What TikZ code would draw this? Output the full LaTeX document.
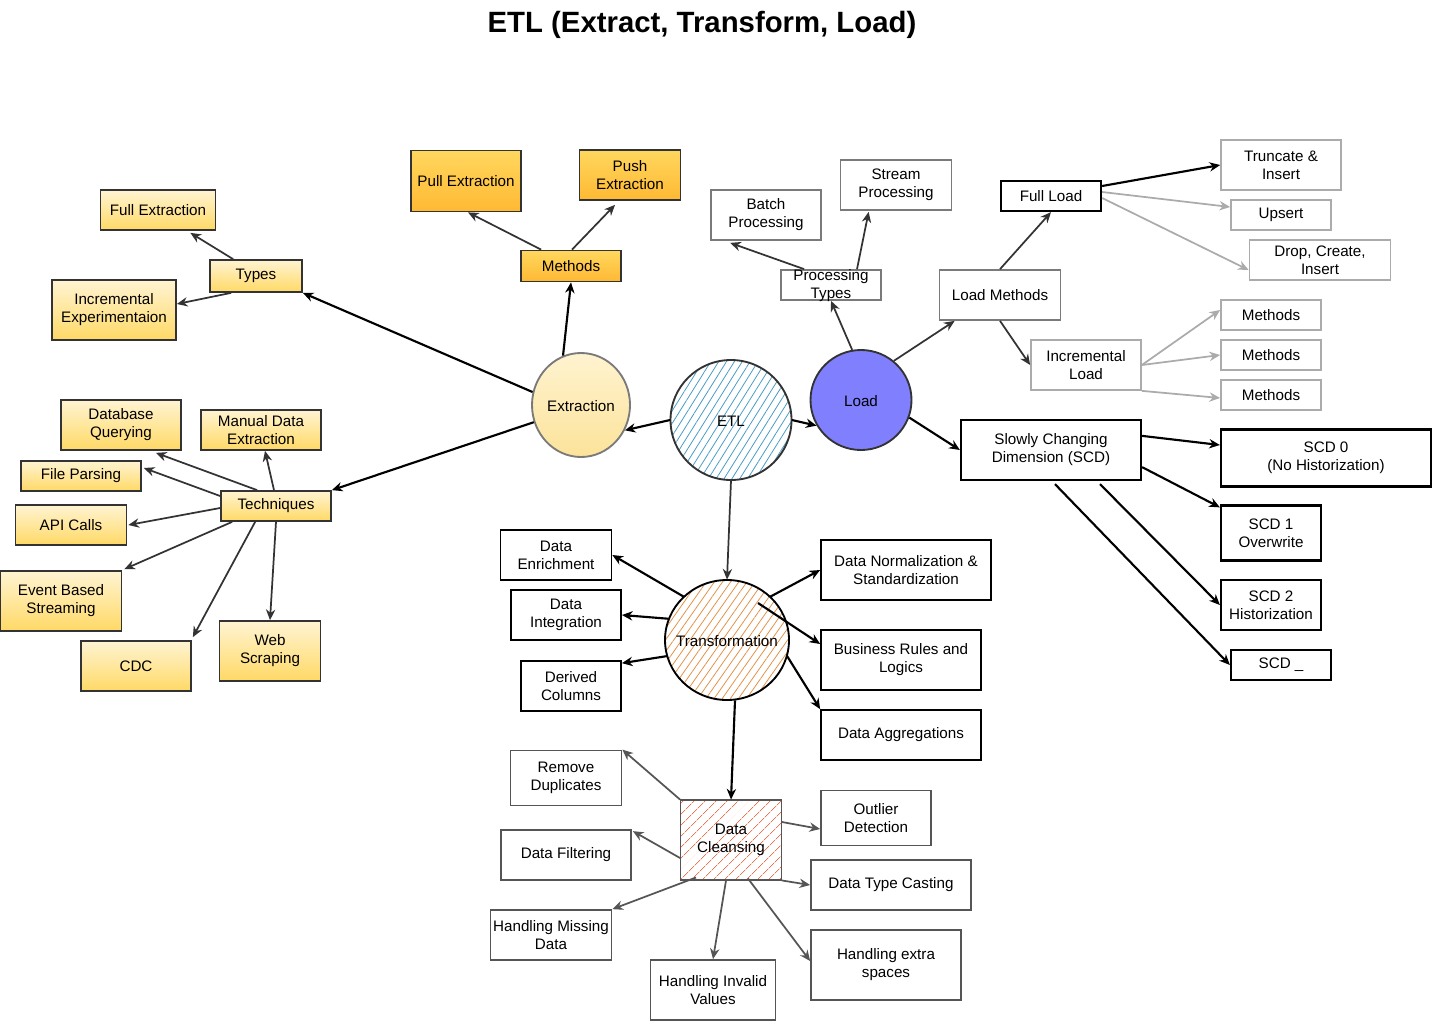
\documentclass[tikz,border=0pt]{standalone}
\usepackage{fontspec}
\setmainfont{Liberation Sans}
\usetikzlibrary{shapes.geometric,arrows.meta,calc,patterns.meta}
\definecolor{cdark}{HTML}{333333}
\definecolor{gzero}{HTML}{555555}
\definecolor{gone}{HTML}{7A7A7A}
\definecolor{gtwo}{HTML}{ABABAB}
\definecolor{ytop}{HTML}{FFF4D2}
\definecolor{ybot}{HTML}{FFD966}
\definecolor{otop}{HTML}{FFD75E}
\definecolor{obot}{HTML}{FFB933}
\definecolor{etop}{HTML}{FFF3D0}
\definecolor{ebot}{HTML}{FCE39A}
\definecolor{loadc}{HTML}{8080FF}
\definecolor{hblue}{HTML}{4A9CC4}
\definecolor{horange}{HTML}{E39248}
\definecolor{hred}{HTML}{EC7450}
\begin{document}
\begin{tikzpicture}[x=0.75pt,y=-0.75pt,
  font=\fontsize{11.4}{13.5}\selectfont,
  box/.style={draw, rectangle, align=center, inner sep=0.5pt, line width=1.3pt},
  sz/.style 2 args={minimum width=#1*0.75pt, minimum height=#2*0.75pt},
  ybox/.style={box, draw=cdark, top color=ytop, bottom color=ybot},
  obox/.style={box, draw=cdark, top color=otop, bottom color=obot},
  kbox/.style={box, draw=black, fill=white},
  kkbox/.style={box, draw=black, line width=1.7pt, fill=white},
  gbox/.style={box, draw=gone, fill=white},
  lbox/.style={box, draw=gtwo, fill=white},
  dbox/.style={box, draw=gzero, fill=white},
  circ/.style={ellipse, inner sep=0pt, line width=1.4pt},
  arr/.style={-{Stealth[length=8pt,width=7pt]}, draw=cdark, line width=1.3pt},
  karr/.style={arr, draw=black, line width=1.6pt},
  larr/.style={arr, draw=gtwo},
  darr/.style={arr, draw=gzero},
  txt/.style={align=center, inner sep=0pt}
]
\useasboundingbox (0,0) rectangle (1433,1021);

\node[font=\bfseries\fontsize{22}{26}\selectfont] (title) at (702,25) {ETL (Extract, Transform, Load)};

% central shapes
\node[circ, draw=gone, top color=etop, bottom color=ebot, sz={98}{104}] (ext) at (581,405) {};
\node[txt] (extt) at (581,406) {Extraction};
\node[circ, draw=cdark, pattern={Lines[angle=58,distance=5pt,line width=0.6pt]}, pattern color=hblue, sz={121}{120}] (etl) at (731,420) {};
\node[txt] (etlt) at (731,421) {ETL};
\node[circ, draw=cdark, fill=loadc, sz={101}{100}] (load) at (861,400) {};
\node[txt] (loadt) at (861,401) {Load};
\node[circ, draw=black, pattern={Lines[angle=55,distance=5pt,line width=0.6pt]}, pattern color=horange, sz={124}{120}] (tr) at (727,640) {};
\node[txt] (trt) at (727,641) {Transformation};
\node[box, draw=gzero, pattern={Lines[angle=45,distance=6.5pt,line width=0.7pt]}, pattern color=hred, sz={101}{80}] (dcl) at (731,840) {Data\\Cleansing};

% extraction group
\node[ybox, sz={115}{40}] (fe) at (158,210) {Full Extraction};
\node[ybox, sz={92}{32}] (types) at (256,276) {Types};
\node[ybox, sz={124}{60}] (ie) at (114,310) {Incremental\\Experimentaion};
\node[obox, sz={110}{61}] (pull) at (466,181) {Pull Extraction};
\node[obox, sz={101}{50}] (push) at (630,175) {Push\\Extraction};
\node[obox, sz={100}{31}] (meth) at (571,266) {Methods};
\node[ybox, sz={120}{50}] (dbq) at (121,425) {Database\\Querying};
\node[ybox, sz={120}{40}] (man) at (261,430) {Manual Data\\Extraction};
\node[ybox, sz={120}{30}] (fp) at (81,476) {File Parsing};
\node[ybox, sz={110}{30}] (tech) at (276,506) {Techniques};
\node[ybox, sz={111}{40}] (api) at (71,525) {API Calls};
\node[ybox, sz={121}{60}] (ebs) at (61,601) {Event Based\\Streaming};
\node[ybox, sz={110}{50}] (cdc) at (136,666) {CDC};
\node[ybox, sz={101}{60}] (ws) at (270,651) {Web\\Scraping};

% transformation group
\node[kbox, sz={111}{50}] (den) at (556,555) {Data\\Enrichment};
\node[kbox, sz={110}{50}] (din) at (566,615) {Data\\Integration};
\node[kbox, sz={100}{50}] (dcol) at (571,686) {Derived\\Columns};
\node[kbox, sz={170}{60}] (dnorm) at (906,570) {Data Normalization \&\\Standardization};
\node[kbox, sz={160}{60}] (brl) at (901,660) {Business Rules and\\Logics};
\node[kbox, sz={160}{50}] (dagg) at (901,735) {Data Aggregations};

% cleansing group
\node[dbox, sz={111}{55}] (rd) at (566,778) {Remove\\Duplicates};
\node[dbox, sz={130}{50}] (dfil) at (566,855) {Data Filtering};
\node[dbox, sz={121}{50}] (hmd) at (551,935) {Handling Missing\\Data};
\node[dbox, sz={125}{60}] (hiv) at (713,990) {Handling Invalid\\Values};
\node[dbox, sz={110}{55}] (od) at (876,818) {Outlier\\Detection};
\node[dbox, sz={160}{50}] (dtc) at (891,885) {Data Type Casting};
\node[dbox, sz={150}{70}] (hes) at (886,965) {Handling extra\\spaces};

% load group
\node[gbox, sz={100}{30}] (ptyp) at (831,285) {};
\node[txt] (ptypt) at (831,286) {Processing\\Types};
\node[gbox, sz={110}{50}] (batch) at (766,215) {Batch\\Processing};
\node[gbox, sz={111}{50}] (stream) at (896,185) {Stream\\Processing};
\node[gbox, sz={121}{50}] (lm) at (1000,295) {Load Methods};
\node[kkbox, sz={100}{30}] (fl) at (1051,196) {Full Load};
\node[lbox, sz={120}{50}] (trunc) at (1281,165) {Truncate \&\\Insert};
\node[lbox, sz={100}{30}] (ups) at (1281,215) {Upsert};
\node[lbox, sz={141}{40}] (drop) at (1320,260) {Drop, Create,\\Insert};
\node[lbox, sz={110}{50}] (il) at (1086,365) {Incremental\\Load};
\node[lbox, sz={100}{30}] (m1) at (1271,315) {Methods};
\node[lbox, sz={100}{30}] (m2) at (1271,355) {Methods};
\node[lbox, sz={100}{30}] (m3) at (1271,395) {Methods};
\node[kkbox, sz={180}{60}] (scd) at (1051,450) {Slowly Changing\\Dimension (SCD)};
\node[kkbox, sz={210}{57}] (s0) at (1326,458) {SCD 0\\(No Historization)};
\node[kkbox, sz={100}{55}] (s1) at (1271,533) {SCD 1\\Overwrite};
\node[kkbox, sz={100}{50}] (s2) at (1271,605) {SCD 2\\Historization};
\node[kkbox, sz={100}{30}] (sx) at (1281,665) {SCD \_};

% ETL edges
\draw[karr] (etl.west) -- (ext.-30);
\draw[karr] (etl.east) -- (load.-150);
\draw[arr] (etl.south) -- (tr.north);

% extraction edges
\draw[karr] (ext.165) -- (types.south east);
\draw[karr] (ext.110) -- (meth.south);
\draw[karr] (ext.200) -- (tech.north east);
\draw[arr] ($(types.north west)+(24,0)$) -- ($(fe.south east)+(-26,2)$);
\draw[arr] ($(types.south west)+(22,0)$) -- ($(ie.east)+(0,-6)$);
\draw[arr] ($(meth.north west)+(21,0)$) -- ($(pull.south)+(2,0)$);
\draw[arr] ($(meth.north)+(1,0)$) -- ($(push.south)+(-15,4)$);
\draw[arr] ($(tech.north west)+(37,0)$) -- ($(dbq.south east)+(-26,2)$);
\draw[arr] ($(tech.north)+(-2,0)$) -- ($(man.south)+(4,0)$);
\draw[arr] ($(tech.west)+(0,-10)$) -- ($(fp.east)+(2,-8)$);
\draw[arr] ($(tech.west)+(0,2)$) -- ($(api.east)+(1,0)$);
\draw[arr] ($(tech.south west)+(12,0)$) -- ($(ebs.north east)+(2,-1)$);
\draw[arr] ($(tech.south west)+(35,0)$) -- ($(cdc.north east)+(1,-3)$);
\draw[arr] (tech.south) -- (ws.north);

% load edges
\draw[arr] (load.100) -- (ptyp.south);
\draw[arr] (load.50) -- ($(lm.south west)+(16,0)$);
\draw[karr] (load.-20) -- (scd.west);
\draw[arr] ($(ptyp.north west)+(24,0)$) -- ($(batch.south west)+(20,2)$);
\draw[arr] ($(ptyp.north)+(26,0)$) -- ($(stream.south west)+(29,1)$);
\draw[arr] (lm.north) -- (fl.south);
\draw[arr] (lm.south) -- (il.west);
\draw[karr] ($(fl.east)+(0,-10)$) -- (trunc.west);
\draw[larr] ($(fl.east)+(0,-4)$) -- ($(ups.west)+(0,-8)$);
\draw[larr] ($(fl.east)+(0,2)$) -- ($(drop.west)+(0,10)$);
\draw[larr] (il.east) -- ($(m1.west)+(0,-5)$);
\draw[larr] (il.east) -- (m2.west);
\draw[larr] (il.south east) -- ($(m3.west)+(0,3)$);
\draw[karr] ($(scd.north east)+(0,17)$) -- ($(s0.west)+(0,-13)$);
\draw[karr] ($(scd.south east)+(0,-14)$) -- ($(s1.north west)+(0,3)$);
\draw[karr] ($(scd.south)+(49,3)$) -- (s2.west);
\draw[karr] ($(scd.south)+(4,3)$) -- (sx.west);

% transformation edges
\draw[karr] (tr.135) -- (den.east);
\draw[karr] (tr.160) -- (din.east);
\draw[karr] (tr.195) -- ($(dcol.north east)+(0,3)$);
\draw[karr] (tr.45) -- (dnorm.west);
\draw[karr] ($(tr.center)+(31,-37)$) -- ($(brl.west)+(0,-16)$);
\draw[karr] (tr.-15) -- (dagg.north west);
\draw[karr] ($(tr.south)+(8,0)$) -- (dcl.north);

% cleansing edges
\draw[darr] (dcl.north west) -- (rd.north east);
\draw[darr] ($(dcl.west)+(0,18)$) -- ($(dfil.north east)+(1,2)$);
\draw[darr] ($(dcl.south west)+(16,-3)$) -- (hmd.north east);
\draw[darr] ($(dcl.south)+(-5,0)$) -- (hiv.north);
\draw[darr] ($(dcl.east)+(0,-18)$) -- ($(od.west)+(0,11)$);
\draw[darr] (dcl.south east) -- (dtc.west);
\draw[darr] ($(dcl.south east)+(-34,-2)$) -- ($(hes.west)+(0,-4)$);
\end{tikzpicture}
\end{document}
